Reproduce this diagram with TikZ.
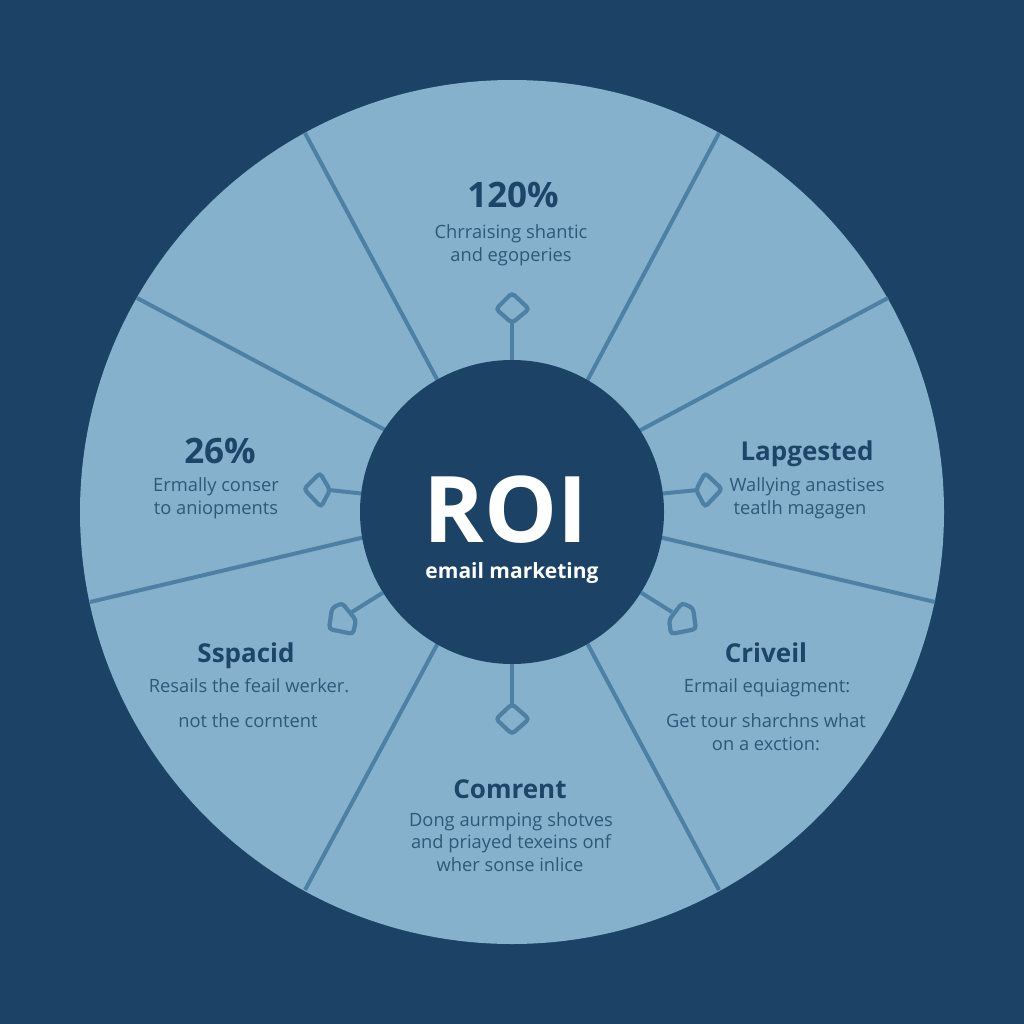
\documentclass[tikz,border=0pt]{standalone}
\usepackage{fontspec}
\setmainfont{Open Sans}
\definecolor{bgblue}{HTML}{1C4365}
\definecolor{disc}{HTML}{86B1CC}
\definecolor{spokeblue}{HTML}{4D80A3}
\definecolor{headblue}{HTML}{1D4568}
\definecolor{bodyblue}{HTML}{2E5878}
\newcommand{\headlab}[4]{\node[headtext] (#1) at (#2,#3) {#4};}
\newcommand{\biglab}[4]{\node[headtext,font=\fontsize{35}{35}\selectfont\bfseries] (#1) at (#2,#3) {#4};}
\newcommand{\bodylab}[4]{\node[bodytext] (#1) at (#2,#3) {#4};}
\tikzset{
  spoke/.style={draw=spokeblue,line width=4pt},
  linker/.style={draw=spokeblue,line width=4pt},
  marker/.style={draw=spokeblue,line width=4.2pt,rounded corners=3.5pt},
  headtext/.style={anchor=base,inner sep=0pt,text=headblue,font=\fontsize{26}{26}\selectfont\bfseries},
  bodytext/.style={anchor=base,inner sep=0pt,text=bodyblue,font=\fontsize{18.3}{18.3}\selectfont},
}
\begin{document}
\begin{tikzpicture}[x=1pt,y=-1pt]
\useasboundingbox (0,0) rectangle (1024,1024);
\fill[bgblue] (0,0) rectangle (1024,1024);
\node[circle,fill=disc,inner sep=0pt,outer sep=0pt,minimum size=864pt] (rim) at (512,512) {};
% spokes: inner end slightly inside the hub, outer end on the rim
\foreach \xi/\yi/\xa/\ya in {439/383/305/133,586/383/719/133,637/432/888/298,659/537/935/602,586/641/719/890,439/641/305/890,365/537/90/602,389/432/137/298}
  \draw[spoke] (\xi,\yi) -- (\xa,\ya);
\coordinate (mt) at (512,322);
\coordinate (mb) at (512,705);
\coordinate (mr) at (698,490);
\coordinate (ml) at (329,490);
\coordinate (mlr) at (672,612);
\coordinate (mll) at (352,612);
\node[circle,fill=bgblue,inner sep=0pt,outer sep=0pt,minimum size=304pt] (hub) at (512,512) {};
% connectors
\draw[linker] (hub.90) -- (mt);
\draw[linker] (hub.-90) -- (mb);
\draw[linker] (hub.7) -- (mr);
\draw[linker] (hub.173) -- (ml);
\draw[linker] (hub.-32) -- (mlr);
\draw[linker] (hub.212) -- (mll);
% markers
\draw[marker] (512,293) -- (529,309) -- (512,323) -- (496,309) -- cycle;
\draw[marker] (512,704) -- (529,719) -- (512,734) -- (496,719) -- cycle;
\draw[marker] (722,489) -- (705,473) -- (696,490) -- (705,507) -- cycle;
\draw[marker] (304,489) -- (320,473) -- (330,490) -- (321,507) -- cycle;
\draw[marker] (682,603) -- (669,620) -- (671,634) -- (696,629) -- (693,608) -- cycle;
\draw[marker] (342,603) -- (356,620) -- (353,634) -- (329,629) -- (332,608) -- cycle;
% centre
\node[anchor=base,inner sep=0pt,text=white,font=\fontsize{92}{92}\selectfont\bfseries] (roi) at (506,542) {ROI};
\node[anchor=base,inner sep=0pt,text=white,font=\fontsize{21}{21}\selectfont\bfseries] (em) at (512,578) {email marketing};
% labels
\biglab{ha}{513}{208}{120\%}
\bodylab{ba}{511}{238}{Chrraising shantic}
\bodylab{bb}{511}{261}{and egoperies}
\biglab{hb}{220}{463}{26\%}
\bodylab{bc}{216}{491}{Ermally conser}
\bodylab{bd}{216}{514}{to aniopments}
\headlab{hc}{807}{460}{Lapgested}
\bodylab{be}{807}{491}{Wallying anastises}
\bodylab{bf}{800}{514}{teatlh magagen}
\headlab{hd}{246}{662}{Sspacid}
\bodylab{bg}{249}{692}{Resails the feail werker.}
\bodylab{bh}{248}{727}{not the corntent}
\headlab{he}{766}{662}{Criveil}
\bodylab{bi}{767}{692}{Ermail equiagment:}
\bodylab{bj}{766}{727}{Get tour sharchns what}
\bodylab{bk}{766}{750}{on a exction:}
\headlab{hf}{510}{798}{Comrent}
\bodylab{bl}{511}{826}{Dong aurmping shotves}
\bodylab{bm}{511}{848}{and priayed texeins onf}
\bodylab{bn}{510}{871}{wher sonse inlice}
\end{tikzpicture}
\end{document}
